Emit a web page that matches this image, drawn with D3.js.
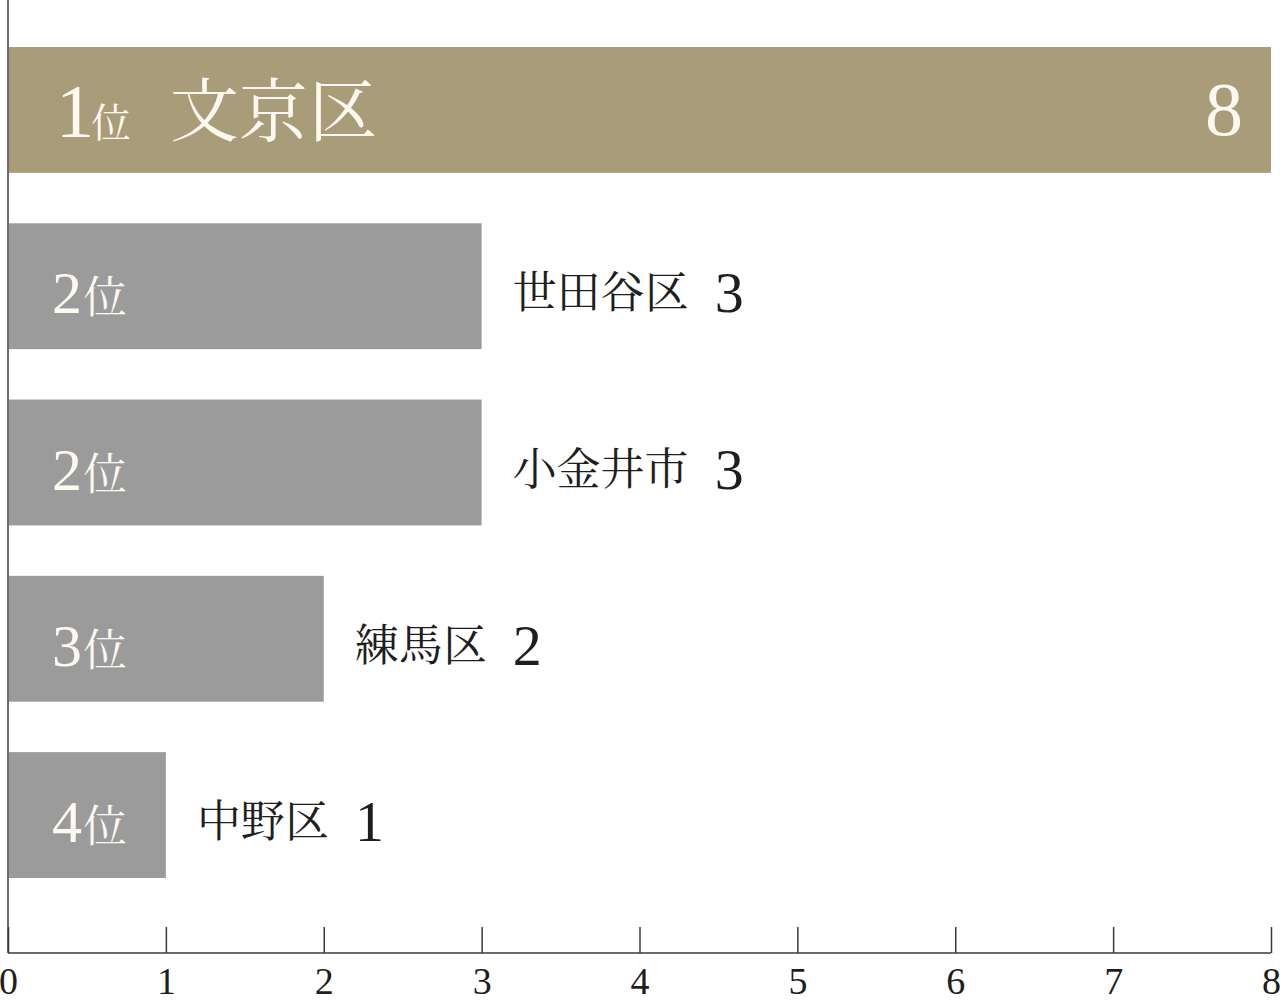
<!DOCTYPE html>
<html><head><meta charset="utf-8">
<script src="https://cdn.jsdelivr.net/npm/d3@7/dist/d3.min.js"></script>
<style>html,body{margin:0;padding:0;background:#fff;}svg{display:block;}</style>
</head><body>
<svg id="chart" width="1280" height="1002"></svg>
<script>
const rankNums = [1, 2, 2, 3, 4];
const rankSuffix = "位";
const names = ["文京区", "世田谷区", "小金井市", "練馬区", "中野区"];
const values = [8, 3, 3, 2, 1];
const xTicks = [0, 1, 2, 3, 4, 5, 6, 7, 8];

(function () {
const svg = d3.select("#chart");
const axisY = 953;
const serif = "'Liberation Serif', 'Times New Roman', serif";
const cjk = "'Noto Serif CJK JP', 'Noto Sans CJK JP', sans-serif";
const gold = "#a99c79", gray = "#9b9b9b";

const x = d3.scaleLinear().domain([0, 8]).range([8, 1271]);
const y = d3.scaleBand().domain(d3.range(names.length)).range([21.8, 903.2]).paddingInner(0.286).paddingOuter(0.143);

const rows = names.map((n, i) => ({i, name: n, rank: rankNums[i], value: values[i]}));

// bars
svg.append("g").selectAll("rect").data(rows).join("rect")
  .attr("x", x(0) + 1)
  .attr("y", d => y(d.i))
  .attr("width", d => x(d.value) - x(0) - 1)
  .attr("height", y.bandwidth())
  .attr("fill", d => d.i === 0 ? gold : gray);

// rank labels
rows.forEach(d => {
  const c = y(d.i) + y.bandwidth() / 2;
  const first = d.i === 0;
  const t = svg.append("text")
    .attr("x", x(0) + (first ? 48 : 44))
    .attr("y", c + 27)
    .attr("fill", "#fdf9f0");
  t.append("tspan").text(d.rank)
    .attr("font-family", serif).attr("font-size", first ? 76 : 60);
  t.append("tspan").text(rankSuffix)
    .attr("font-family", cjk).attr("font-size", first ? 40 : 44)
    .attr("dx", first ? -3 : 1);
});

// first item: name inside bar + value right-aligned inside bar
const lead = rows[0];
const cLead = y(lead.i) + y.bandwidth() / 2;
svg.append("text")
  .attr("x", x(0) + 162).attr("y", cLead + 26)
  .attr("font-family", cjk).attr("font-size", 69).attr("fill", "#fdf9f0")
  .text(lead.name);
svg.append("text")
  .attr("x", x(lead.value) - 28).attr("y", cLead + 25)
  .attr("text-anchor", "end")
  .attr("font-family", serif).attr("font-size", 76).attr("fill", "#fdf9f0")
  .text(lead.value);

// other items: name + value outside the bar
rows.slice(1).forEach(d => {
  const c = y(d.i) + y.bandwidth() / 2;
  const t = svg.append("text")
    .attr("x", x(d.value) + 31)
    .attr("y", c + 22)
    .attr("fill", "#1e1e1e");
  t.append("tspan").text(d.name)
    .attr("font-family", cjk).attr("font-size", 44);
  t.append("tspan").text(d.value)
    .attr("font-family", serif).attr("font-size", 58)
    .attr("dx", 26).attr("dy", 4);
});

// left axis line
svg.append("line")
  .attr("x1", x(0)).attr("x2", x(0))
  .attr("y1", 0).attr("y2", axisY)
  .attr("stroke", "#3a3a3a").attr("stroke-width", 1.5);

// bottom axis
const axis = d3.axisBottom(x).tickValues(xTicks).tickSize(-26).tickPadding(0).tickFormat(d3.format("d"));
const gx = svg.append("g").attr("transform", `translate(0,${axisY})`).call(axis);
gx.select(".domain").attr("d", `M${x(0)},0H${x(8)}`).attr("stroke", "#3a3a3a").attr("stroke-width", 1.5);
gx.selectAll(".tick line").attr("stroke", "#3a3a3a").attr("stroke-width", 1.5);
gx.selectAll(".tick text")
  .attr("y", 41).attr("dy", null)
  .attr("font-family", serif).attr("font-size", 38).attr("fill", "#1e1e1e");
})();
</script>
</body></html>
